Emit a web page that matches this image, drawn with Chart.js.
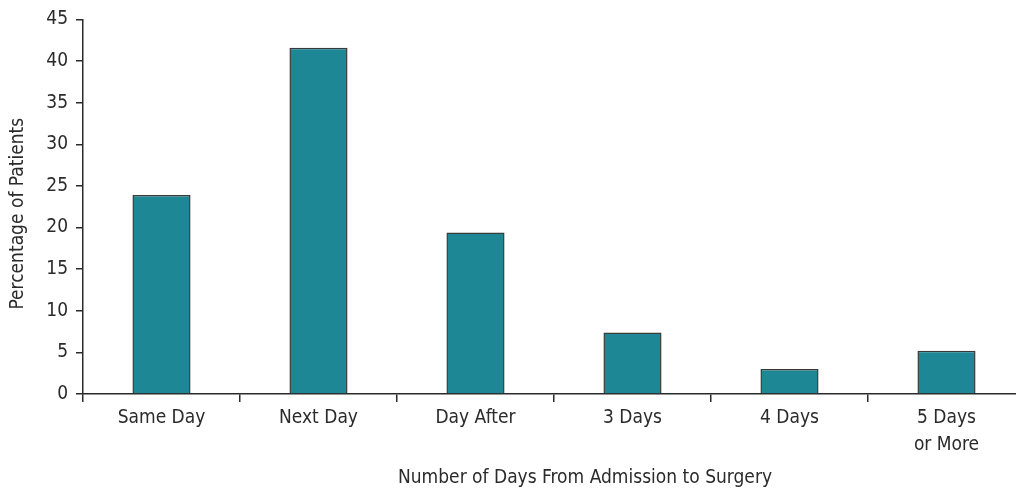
<!DOCTYPE html>
<html>
<head>
<meta charset="utf-8">
<script src="https://cdn.jsdelivr.net/npm/chart.js@4/dist/chart.umd.min.js"></script>
<style>
  html, body { margin: 0; padding: 0; background: #fff; overflow: hidden; }
  #wrap { width: 1040px; height: 491px; }
</style>
</head>
<body>
<div id="wrap"><canvas id="daysChart" width="1040" height="491"></canvas></div>
<script>
// Days from admission to surgery
const categories = ['Same Day', 'Next Day', 'Day After', '3 Days', '4 Days', ['5 Days', 'or More']];
const patientPct = [23.9, 41.6, 19.4, 7.4, 3.0, 5.2];
const yTicks = [0, 5, 10, 15, 20, 25, 30, 35, 40, 45];

const ink = '#2b2b2b';
const font = { family: '"DejaVu Sans Condensed", "Liberation Sans Narrow", sans-serif', size: 19 };

// axis titles drawn by hand so they sit where the original puts them
const axisTitles = {
    id: 'axisTitles',
    afterDraw: (chart) => {
        const { ctx, chartArea } = chart;
        ctx.save();
        ctx.fillStyle = ink;
        ctx.font = `${font.size}px ${font.family}`;
        ctx.textAlign = 'center';
        ctx.textBaseline = 'middle';
        ctx.fillText('Number of Days From Admission to Surgery', chartArea.left + 502, 478);
        ctx.translate(18, (chartArea.top + chartArea.bottom) / 2 + 7);
        ctx.rotate(-Math.PI / 2);
        ctx.fillText('Percentage of Patients', 0, 0);
        ctx.restore();
    }
};

new Chart(document.getElementById('daysChart'), {
    type: 'bar',
    data: {
        labels: categories,
        datasets: [{
            data: patientPct,
            backgroundColor: '#1e8796',
            borderColor: '#3a3a3a',
            borderWidth: 1.5,
            categoryPercentage: 1,
            barPercentage: 0.37
        }]
    },
    options: {
        responsive: false,
        animation: false,
        layout: { padding: { left: 0, right: 15, top: 14, bottom: 0 } },
        plugins: { legend: { display: false }, tooltip: { enabled: false } },
        scales: {
            x: {
                grid: { offset: true, drawOnChartArea: false, tickLength: 8, color: ink, lineWidth: 1.5 },
                border: { color: ink, width: 1.5 },
                ticks: { color: ink, font: { ...font, lineHeight: 1.4 }, padding: 3, maxRotation: 0, autoSkip: false },
                afterFit: (scale) => { scale.height = 97; }
            },
            y: {
                min: 0,
                max: 45,
                afterBuildTicks: (scale) => { scale.ticks = yTicks.map(v => ({ value: v })); },
                grid: { drawOnChartArea: false, tickLength: 7, color: ink, lineWidth: 1.5 },
                border: { color: ink, width: 1.5 },
                ticks: { color: ink, font: font, padding: 8 },
                afterFit: (scale) => { scale.width = 83; }
            }
        }
    },
    plugins: [axisTitles]
});
</script>
</body>
</html>
